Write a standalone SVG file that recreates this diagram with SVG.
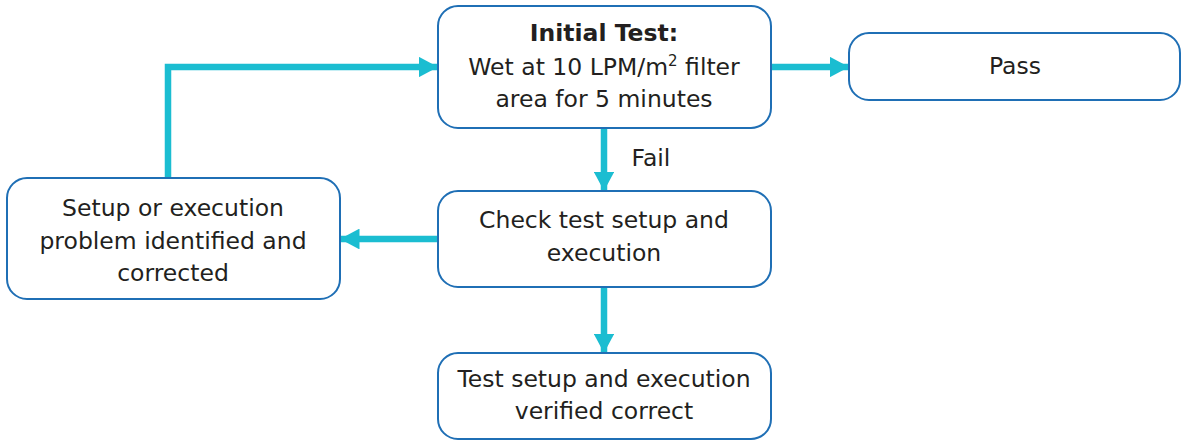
<svg xmlns="http://www.w3.org/2000/svg" width="1181" height="443" viewBox="0 0 1181 443">
<defs>
<style>
.box{fill:#fff;stroke:#1f6fb5;stroke-width:2}
.t{font-family:"DejaVu Sans",Verdana,sans-serif;font-size:23.5px;fill:#231f20;text-anchor:middle}
.b{font-weight:bold}
.c{fill:none;stroke:#1bbdd1;stroke-width:6.5}
</style>
<marker id="ah" markerWidth="3" markerHeight="3.2" refX="3" refY="1.6" orient="auto" markerUnits="strokeWidth" viewBox="0 0 3 3.2">
<path d="M0,0 L3,1.6 L0,3.2 z" fill="#1bbdd1"/>
</marker>
</defs>
<g id="connectors">
<path class="c" d="M771,67 H849" marker-end="url(#ah)"/>
<path class="c" d="M604,128 V191" marker-end="url(#ah)"/>
<path class="c" d="M438,239 H340" marker-end="url(#ah)"/>
<path class="c" d="M604,287 V353" marker-end="url(#ah)"/>
<path class="c" d="M168,178 V67 H438" marker-end="url(#ah)"/>
<text class="t" x="651" y="166">Fail</text>
</g>
<g id="initial">
<rect class="box" x="438" y="6" width="333" height="122" rx="20"/>
<text class="t b" x="604" y="41">Initial Test:</text>
<text class="t" x="604" y="75">Wet at 10 LPM/m<tspan font-size="15" dy="-9">2</tspan><tspan dy="9"> filter</tspan></text>
<text class="t" x="604" y="107">area for 5 minutes</text>
</g>
<g id="pass">
<rect class="box" x="849" y="33" width="331" height="67" rx="20"/>
<text class="t" x="1015" y="74">Pass</text>
</g>
<g id="check">
<rect class="box" x="438" y="191" width="333" height="96" rx="20"/>
<text class="t" x="604" y="228">Check test setup and</text>
<text class="t" x="604" y="261">execution</text>
</g>
<g id="setup">
<rect class="box" x="7" y="178" width="333" height="121" rx="20"/>
<text class="t" x="173" y="216">Setup or execution</text>
<text class="t" x="173" y="249">problem identified and</text>
<text class="t" x="173" y="281">corrected</text>
</g>
<g id="verified">
<rect class="box" x="438" y="353" width="333" height="86" rx="20"/>
<text class="t" x="604" y="387">Test setup and execution</text>
<text class="t" x="604" y="419">verified correct</text>
</g>
</svg>
